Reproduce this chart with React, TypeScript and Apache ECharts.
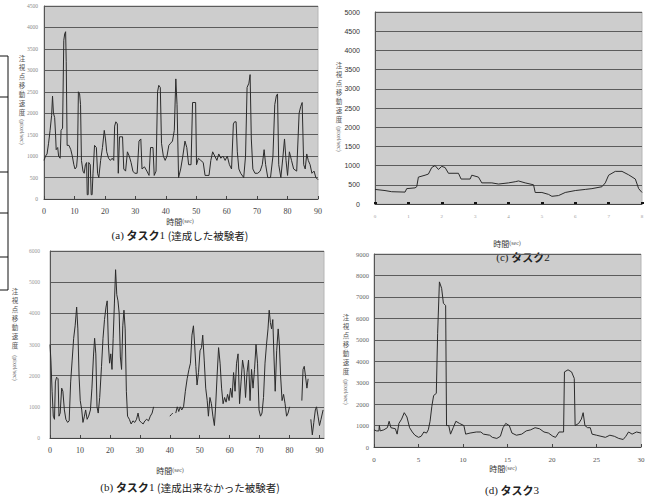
import React, { useEffect, useRef } from "react";
import * as echarts from "echarts";

// (a) タスク1 (達成した被験者)
const aTime = [0, 0.5, 1, 1.5, 2, 2.5, 2.8, 3.1, 3.5, 3.8, 4, 4.5, 4.8, 5.3, 5.6, 6.1, 6.5, 6.8, 7.1, 7.3, 7.6, 8.2, 8.8, 9.3, 9.8, 10.2, 10.7, 11, 11.3, 11.7, 12, 12.3, 12.8, 13.2, 13.6, 14, 14.2, 14.5, 14.7, 15.2, 15.5, 15.8, 16.1, 16.6, 17.2, 17.6, 18, 18.6, 19.2, 19.8, 20.2, 20.6, 21.2, 21.8, 22.4, 22.9, 23.2, 23.6, 24.1, 24.4, 24.8, 25.8, 26.2, 26.8, 27.4, 28, 28.6, 29.2, 29.8, 30.6, 31.2, 31.8, 32.2, 33, 33.8, 34.5, 35, 35.8, 36.2, 36.8, 37.3, 37.7, 38.2, 38.6, 39.2, 39.8, 40.4, 41, 41.6, 42.2, 42.8, 43.3, 43.7, 44.2, 44.9, 45.6, 46.3, 46.9, 47.5, 48.3, 48.8, 49.8, 50.1, 50.7, 51.5, 52.3, 52.9, 54.2, 54.8, 55.4, 56.1, 56.8, 57.4, 58.1, 58.8, 59.5, 60.2, 60.9, 61.6, 62.2, 62.6, 63.1, 63.5, 64, 64.6, 65.6, 66.2, 66.7, 67.3, 67.7, 68.1, 68.6, 69.3, 70.2, 71, 71.7, 72.3, 72.8, 73.5, 74.4, 75.2, 75.8, 76.3, 76.7, 77.1, 77.8, 78.5, 79, 79.5, 80, 80.6, 81.3, 82, 83, 83.8, 84.3, 84.8, 85.3, 85.8, 86.3, 86.8, 87.4, 88, 88.7, 89.3, 90];
const aSpeed = [900, 1000, 1050, 1300, 1600, 1950, 2400, 2000, 1900, 1500, 1150, 1200, 1000, 950, 1600, 1650, 3700, 3850, 3900, 3200, 1250, 1250, 1150, 1000, 800, 700, 750, 1000, 2500, 2450, 2200, 900, 650, 600, 800, 850, 100, 100, 850, 800, 100, 100, 600, 1250, 1200, 600, 500, 900, 1200, 1600, 1400, 1100, 950, 900, 950, 900, 1700, 1800, 1750, 600, 1450, 1450, 700, 650, 1100, 1000, 850, 650, 600, 600, 1350, 1400, 700, 750, 650, 550, 1200, 1200, 550, 650, 2500, 2650, 2600, 1300, 1000, 900, 1000, 1250, 1300, 1350, 1600, 2800, 2200, 500, 700, 1000, 1350, 1200, 800, 800, 2250, 2250, 800, 950, 900, 850, 550, 550, 900, 1100, 1000, 900, 1050, 950, 1000, 900, 1000, 800, 700, 1750, 1800, 1800, 1100, 700, 600, 500, 1000, 2600, 2700, 2900, 1400, 700, 600, 600, 650, 800, 1150, 800, 500, 500, 1000, 2200, 2400, 2450, 800, 500, 1000, 1400, 900, 550, 1100, 900, 700, 650, 2000, 2150, 2250, 800, 700, 1050, 900, 800, 600, 650, 500, 450];

// (b) タスク1 (達成出来なかった被験者)  — null = gap in the record
const bTime = [0, 0.3, 0.7, 1.1, 1.5, 1.8, 2.2, 2.7, 3.0, 3.4, 3.9, 4.3, 4.8, 5.3, 5.9, 6.4, 6.9, 7.4, 7.9, 8.4, 8.9, 9.3, 9.7, 10.1, 10.6, 11.0, 11.5, 11.9, 12.4, 12.9, 13.5, 14.0, 14.5, 14.9, 15.3, 15.7, 16.1, 16.6, 17.2, 17.7, 18.2, 18.7, 19.1, 19.5, 19.9, 20.3, 20.7, 21.1, 21.5, 21.9, 22.3, 22.7, 23.1, 23.5, 23.9, 24.3, 24.7, 25.1, 25.5, 25.9, 26.5, 27.1, 27.7, 28.3, 28.9, 29.4, 29.9, 30.5, 31.1, 31.7, 32.3, 32.9, 33.5, 34.1, 34.6, 35.0, 40.0, 40.5, 41.0, 41.4, 42.0, 42.5, 43.0, 43.5, 44.0, 44.6, 45.2, 45.8, 46.4, 46.9, 47.4, 47.9, 48.3, 48.7, 49.1, 49.6, 50.1, 50.6, 51.0, 51.5, 52.0, 52.5, 52.9, 53.4, 53.9, 54.4, 54.9, 55.3, 55.8, 56.3, 56.8, 57.3, 57.8, 58.3, 58.8, 59.3, 59.8, 60.3, 60.8, 61.3, 61.8, 62.3, 62.8, 63.3, 63.8, 64.3, 64.8, 65.3, 65.8, 66.3, 66.8, 67.3, 67.8, 68.3, 68.8, 69.3, 69.8, 70.3, 70.8, 71.3, 71.8, 72.3, 72.8, 73.2, 73.6, 74.0, 74.4, 74.8, 75.2, 75.7, 76.2, 76.6, 77.0, 77.5, 78.0, 78.5, 79.0, 79.5, 80.0, 80.3, 84.1, 84.5, 84.9, 85.3, 85.8, 86.2, 86.5, 87.1, 87.6, 88.1, 88.6, 89.0, 89.5, 90.0, 90.5, 91.2];
const bSpeed = [3000, 2500, 1500, 700, 600, 1800, 1950, 1900, 700, 800, 1600, 1500, 900, 600, 500, 550, 1800, 2500, 3200, 3600, 4200, 3500, 2000, 1200, 900, 500, 700, 900, 600, 700, 900, 1600, 2600, 3200, 2700, 1000, 800, 1300, 2300, 3200, 3800, 4200, 4400, 3000, 2400, 2700, 2200, 3200, 4300, 5400, 4600, 4400, 4000, 2600, 2200, 3600, 4100, 3500, 1500, 700, 600, 450, 550, 500, 600, 800, 550, 500, 450, 550, 600, 550, 700, 800, 1000, null, 700, 750, 800, null, 800, 1000, 850, 1000, 900, 1000, 1500, 1900, 2200, 2400, 3300, 3600, 3000, 2300, 1700, 2100, 2800, 2900, 3300, 2500, 1600, 1200, 700, 1300, 1100, 700, 400, 1000, 2000, 2900, 2400, 1600, 1100, 1300, 1150, 1400, 1200, 1600, 1300, 2100, 1500, 2400, 2700, 1100, 1800, 2500, 2200, 1300, 2100, 2500, 1200, 2200, 1600, 2200, 3000, 2400, 900, 700, 800, 1300, 2400, 3000, 3500, 4100, 3700, 3500, 3800, 2600, 1500, 2800, 3500, 3000, 2000, 1200, 1400, 1100, 700, 800, 1000, null, 1200, 2200, 2300, 2000, 1600, 1900, null, 600, 100, 500, 900, 1000, 700, 400, 600, 900];

// (c) タスク2
const cTime = [0, 0.3, 0.5, 0.9, 0.95, 1.2, 1.25, 1.3, 1.5, 1.6, 1.7, 1.8, 1.9, 2.0, 2.1, 2.2, 2.5, 2.58, 2.85, 2.9, 3.1, 3.2, 3.5, 3.7, 4.0, 4.2, 4.3, 4.5, 4.75, 4.8, 5.0, 5.2, 5.3, 5.5, 5.7, 6.0, 6.3, 6.5, 6.8, 6.9, 7.0, 7.2, 7.4, 7.6, 7.8, 7.9, 8.0];
const cSpeed = [380, 350, 320, 310, 400, 420, 450, 700, 750, 780, 950, 1000, 900, 980, 950, 800, 800, 650, 650, 750, 700, 550, 550, 520, 550, 580, 600, 550, 500, 300, 300, 250, 200, 220, 300, 350, 380, 400, 450, 550, 750, 850, 850, 760, 650, 400, 300];

// (d) タスク3
const dTime = [0, 0.3, 0.55, 0.6, 0.7, 1.1, 1.5, 1.7, 1.9, 2.4, 2.6, 2.8, 3.1, 3.4, 3.7, 4.0, 4.3, 4.6, 5.0, 5.3, 5.6, 5.9, 6.1, 6.3, 6.5, 6.7, 7.0, 7.15, 7.35, 7.6, 7.8, 8.05, 8.15, 8.4, 8.6, 8.9, 9.2, 9.6, 10.1, 10.3, 10.8, 11.5, 12.0, 12.3, 13.0, 13.3, 13.8, 14.2, 14.5, 14.8, 15.2, 15.5, 16.0, 16.6, 17.1, 17.6, 18.1, 18.6, 19.1, 19.6, 20.1, 20.4, 20.8, 21.3, 21.4, 21.8, 22.2, 22.5, 22.6, 23.0, 23.3, 23.5, 23.7, 24.0, 24.3, 24.5, 25.0, 25.5, 26.0, 26.5, 27.0, 27.5, 28.0, 28.3, 28.6, 29.0, 29.5, 30.0];
const dSpeed = [800, 750, 750, 1000, 750, 800, 900, 1200, 900, 850, 600, 1100, 1300, 1600, 1400, 900, 700, 550, 450, 500, 700, 650, 800, 1200, 1900, 2400, 2500, 5300, 7700, 7400, 6700, 6600, 1000, 1000, 600, 900, 1200, 1100, 1000, 600, 650, 700, 700, 600, 550, 450, 400, 500, 900, 1100, 1000, 650, 550, 600, 750, 800, 900, 850, 700, 650, 500, 450, 700, 700, 3500, 3600, 3500, 3200, 1000, 1100, 1300, 1600, 1000, 900, 900, 600, 550, 500, 450, 550, 500, 400, 350, 500, 700, 600, 700, 650];

const yAxisName = "注視点移動速度";
const yAxisUnit = "(pixel/sec)";
const xAxisName = "時間";
const xAxisUnit = "(sec)";

const zip = (xs: number[], ys: (number | null)[]) =>
  xs.map((x, i) => [x, ys[i] === null ? "-" : ys[i]]);

const SERIF = "'Liberation Serif', 'DejaVu Serif', serif";
const JP = "'Noto Sans CJK JP', sans-serif";
const LINE = "#2b2b2b";
const plain = (v: number) => String(v);

function xAx(gi: number, max: number, interval: number, extra: any = {}) {
  return {
    type: "value",
    gridIndex: gi,
    min: 0,
    max,
    interval,
    axisLine: { show: true, lineStyle: { color: "#444", width: 1 } },
    axisTick: { show: true, length: 3, inside: true, lineStyle: { color: "#444" } },
    splitLine: { show: false },
    axisLabel: {
      color: "#444",
      fontSize: 8,
      fontFamily: SERIF,
      margin: 8,
      formatter: plain,
      showMaxLabel: max % interval === 0,
      ...(extra.axisLabel || {}),
    },
    ...(extra.rest || {}),
  };
}

function yAx(gi: number, max: number, interval: number, label: any) {
  return {
    type: "value",
    gridIndex: gi,
    min: 0,
    max,
    interval,
    axisLine: { show: true, lineStyle: { color: "#555", width: 1 } },
    axisTick: { show: false },
    splitLine: { show: true, lineStyle: { color: "#5c5c5c", width: 1 } },
    axisLabel: { fontFamily: SERIF, formatter: plain, ...label },
  };
}

function yName(x: number, y: number, fs: number, lh: number, unitLen: number) {
  const chars = yAxisName.split("");
  const els: any[] = chars.map((ch, i) => ({
    type: "text",
    x,
    y: y + i * lh + lh / 2,
    style: {
      text: ch,
      fontSize: fs,
      lineHeight: fs,
      fontFamily: JP,
      fill: "#555",
      align: "center",
      verticalAlign: "middle",
    },
  }));
  els.push({
    type: "text",
    x,
    y: y + chars.length * lh + unitLen / 2 + 1,
    rotation: -Math.PI / 2,
    style: {
      text: yAxisUnit,
      fontSize: fs - 0.5,
      lineHeight: fs - 0.5,
      fontFamily: SERIF,
      fill: "#666",
      align: "center",
      verticalAlign: "middle",
    },
  });
  return els;
}

function xName(x: number, y: number) {
  return {
    type: "text",
    x,
    y,
    style: {
      text: `{j|${xAxisName}}{s|${xAxisUnit}}`,
      align: "center",
      verticalAlign: "middle",
      rich: {
        j: { fontFamily: JP, fontSize: 8, lineHeight: 9, fill: "#333" },
        s: { fontFamily: SERIF, fontSize: 6, lineHeight: 9, fill: "#555" },
      },
    },
  };
}

function title(x: number, y: number, tag: string, num: string, rest: string) {
  return {
    type: "text",
    x,
    y,
    style: {
      text: rest ? `{s|${tag} }{b|タスク}{s|${num}}{g|${rest}}` : `{s|${tag} }{b|タスク}{s|${num}}`,
      align: "center",
      verticalAlign: "middle",
      rich: {
        s: { fontFamily: SERIF, fontSize: 11, lineHeight: 12, fill: "#222" },
        b: { fontFamily: JP, fontSize: 11, lineHeight: 12, fontWeight: "bold", fill: "#222" },
        g: { fontFamily: JP, fontSize: 10.5, lineHeight: 12, fill: "#222" },
      },
    },
  };
}

const tableY = [56, 97, 172, 213, 257, 290];

export default function App() {
  const ref = useRef<HTMLDivElement>(null);
  useEffect(() => {
    document.body.style.margin = "0";
    const chart = echarts.init(ref.current as HTMLDivElement, null, { renderer: "svg" });
    const gridBase = { show: true, backgroundColor: "#cdcdcd", borderColor: "#b5b5b5", borderWidth: 1, containLabel: false };
    const option: any = {
      animation: false,
      backgroundColor: "#ffffff",
      grid: [
        { ...gridBase, left: 44, top: 6, width: 274, height: 193 },
        { ...gridBase, left: 50, top: 251, width: 274, height: 187 },
        { ...gridBase, left: 375, top: 12, width: 267, height: 192 },
        { ...gridBase, left: 374, top: 254, width: 267, height: 193 },
      ],
      xAxis: [
        xAx(0, 90, 10),
        xAx(1, 91.5, 10),
        xAx(2, 8, 1, {
          axisLabel: { fontSize: 5, color: "#999", margin: 10 },
          rest: { axisTick: { show: true, length: 2, inside: true, lineStyle: { color: "#111", width: 3 } } },
        }),
        xAx(3, 30, 5, { axisLabel: { fontSize: 7, color: "#555", margin: 9 } }),
      ],
      yAxis: [
        yAx(0, 4500, 500, { fontSize: 5.5, color: "#8a8a8a", margin: 6 }),
        yAx(1, 6000, 1000, { fontSize: 5.5, color: "#999", margin: 10 }),
        yAx(2, 5000, 500, { fontSize: 7, color: "#333", margin: 15, fontFamily: "'Liberation Sans', sans-serif" }),
        yAx(3, 9000, 1000, { fontSize: 6.5, color: "#666", margin: 5 }),
      ],
      series: [
        { type: "line", xAxisIndex: 0, yAxisIndex: 0, data: zip(aTime, aSpeed) },
        { type: "line", xAxisIndex: 1, yAxisIndex: 1, data: zip(bTime, bSpeed), connectNulls: false },
        { type: "line", xAxisIndex: 2, yAxisIndex: 2, data: zip(cTime, cSpeed) },
        { type: "line", xAxisIndex: 3, yAxisIndex: 3, data: zip(dTime, dSpeed) },
      ].map((s) => ({ ...s, showSymbol: false, symbol: "none", lineStyle: { color: LINE, width: 1 }, silent: true })),
      graphic: [
        ...yName(22, 53, 6.5, 9, 30),
        ...yName(15, 286, 6.5, 9, 36),
        ...yName(339, 60, 6.5, 9, 30),
        ...yName(346, 312, 6.5, 9, 32),
        xName(180, 221),
        xName(170, 470),
        xName(507, 243),
        xName(503, 468),
        title(180, 235, "(a)", "1 ", "(達成した被験者)"),
        title(190, 487, "(b)", "1 ", "(達成出来なかった被験者)"),
        title(523, 257, "(c)", "2", ""),
        title(512, 490, "(d)", "3", ""),
        ...tableY.map((y) => ({
          type: "line",
          shape: { x1: 0, y1: y, x2: 8, y2: y },
          style: { stroke: "#111", lineWidth: 1 },
        })),
        {
          type: "line",
          shape: { x1: 8, y1: tableY[0], x2: 8, y2: tableY[tableY.length - 1] },
          style: { stroke: "#111", lineWidth: 1 },
        },
      ],
    };
    chart.setOption(option);
    return () => chart.dispose();
  }, []);
  return (
    <div
      ref={ref}
      style={{ width: 653, height: 497, position: "fixed", left: 0, top: 0, background: "#fff" }}
    />
  );
}
